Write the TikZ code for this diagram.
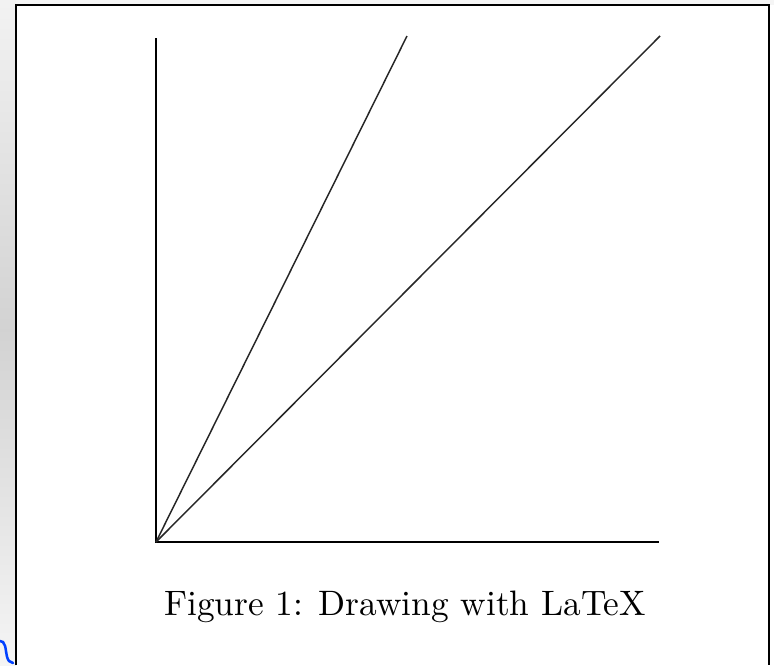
\documentclass[tikz,border=0pt]{standalone}
\usepackage{fontspec}
\begin{document}
\begin{tikzpicture}[x=0.75pt,y=-0.75pt,
  axis/.style={line width=1.3pt,black},
  ray/.style={line width=1.1pt,black!85},
  frame/.style={line width=2.2pt,black}]
\useasboundingbox (0,0) rectangle (774,665);
% blurred background outside the window
\shade[top color=gray!10,bottom color=gray!35] (0,0) rectangle (16,330);
\shade[top color=gray!35,bottom color=gray!8] (0,330) rectangle (16,665);
\fill[gray!8] (16,0) rectangle (774,5);
\fill[white] (16,5) rectangle (769,665);
\draw[blue!75!cyan,line width=1.9pt,line cap=round] (0,641) -- (3,642) .. controls (7,646) and (5,656) .. (9,661) -- (13,663);
% window frame
\draw[frame] (16,665) -- (16,5) -- (769,5) -- (769,665);
% axes and rays
\coordinate (O) at (156,542);
\coordinate (Y) at (156,38);
\coordinate (X) at (659,542);
\coordinate (A) at (407,36);
\coordinate (B) at (660,36);
\draw[axis] (Y) -- (O) -- (X);
\draw[ray] (O) -- (A);
\draw[ray] (O) -- (B);
% caption
\node[anchor=base,inner sep=0pt,scale=2.65,font=\fontsize{10}{12}\selectfont,text=black] (cap) at (405,615) {Figure 1: Drawing with LaTeX};
\end{tikzpicture}
\end{document}
